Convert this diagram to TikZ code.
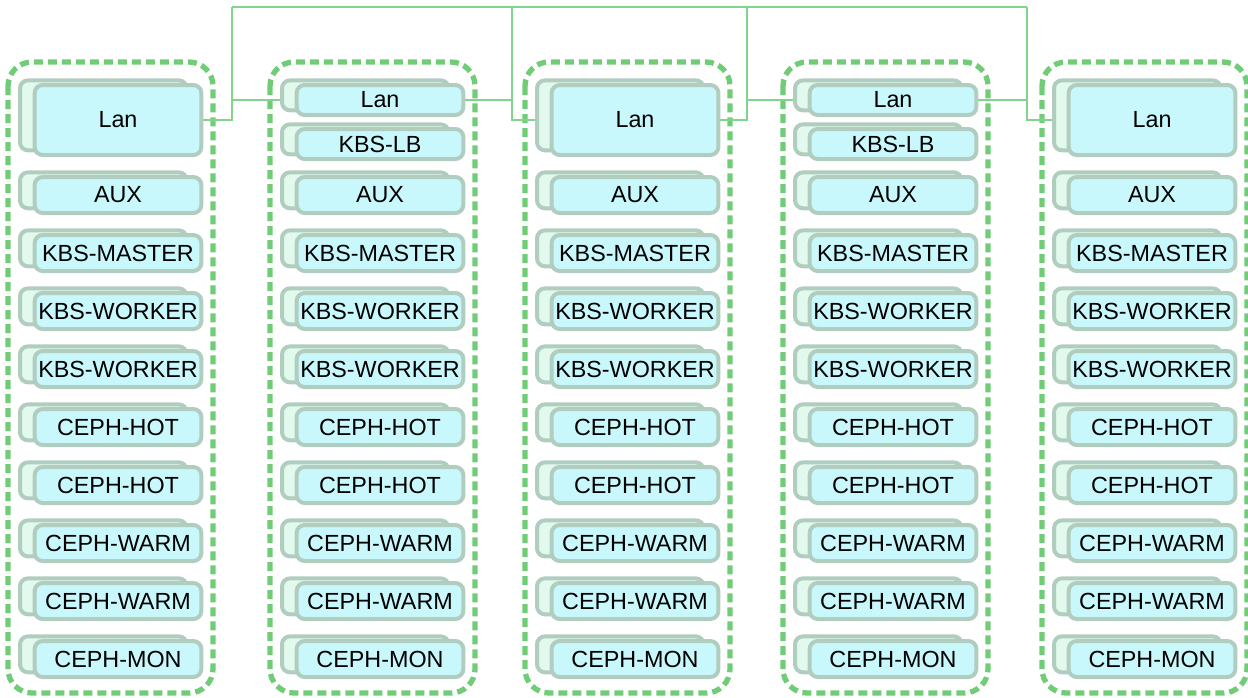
\documentclass[tikz,border=0pt]{standalone}
\usepackage{fontspec}
\setmainfont{Liberation Sans}
\usetikzlibrary{shadows}
\definecolor{busgreen}{RGB}{128,212,140}
\definecolor{podgreen}{RGB}{112,204,118}
\definecolor{vmline}{RGB}{176,205,192}
\definecolor{vmfill}{RGB}{200,248,252}
\definecolor{vmback}{RGB}{226,250,238}
\tikzset{
  vm/.style={draw=vmline, fill=vmfill, line width=3pt, rounded corners=6pt,
    minimum width=125pt, minimum height=27pt, inner sep=0pt,
    font=\fontsize{17.5}{19}\selectfont,
    copy shadow={shadow xshift=-11pt, shadow yshift=3.5pt, draw=vmline, fill=vmback, line width=3pt}},
  lanbig/.style={minimum height=52.5pt},
  lansmall/.style={minimum height=22.5pt},
  pod/.style={draw=podgreen, line width=4pt, dash pattern=on 6.75pt off 3.75pt, rounded corners=18pt},
  bus/.style={draw=busgreen, line width=2.2pt}
}
\begin{document}
\begin{tikzpicture}[x=0.75pt, y=-0.75pt]
  \useasboundingbox (0,0) rectangle (1248,697);
  \foreach \c/\x in {1/118, 2/380, 3/635, 4/893, 5/1152} {
    \draw[pod] (\x-110,62) rectangle (\x+95,693);
    \foreach \t [count=\i from 0] in {AUX, KBS-MASTER, KBS-WORKER, KBS-WORKER, CEPH-HOT, CEPH-HOT, CEPH-WARM, CEPH-WARM, CEPH-MON}
      \node[vm] (vm\c-\i) at (\x,195+58*\i) {\t};
  }
  \node[vm, lanbig] (lan1) at (118,120) {Lan};
  \node[vm, lansmall] (lan2) at (380,100) {Lan};
  \node[vm, lansmall] (lb2) at (380,144) {KBS-LB};
  \node[vm, lanbig] (lan3) at (635,120) {Lan};
  \node[vm, lansmall] (lan4) at (893,100) {Lan};
  \node[vm, lansmall] (lb4) at (893,144) {KBS-LB};
  \node[vm, lanbig] (lan5) at (1152,120) {Lan};
  \coordinate (j1) at (232,7); \coordinate (j2) at (512,7);
  \coordinate (j3) at (747,7); \coordinate (j4) at (1027,7);
  \draw[bus] (j1) -- (j4);
  \draw[bus] (lan1.east) -| (j1);
  \draw[bus] ([xshift=-11pt]lan2.west) -| (j1);
  \draw[bus] (lan2.east) -| (j2);
  \draw[bus] ([xshift=-11pt]lan3.west) -| (j2);
  \draw[bus] (lan3.east) -| (j3);
  \draw[bus] ([xshift=-11pt]lan4.west) -| (j3);
  \draw[bus] (lan4.east) -| (j4);
  \draw[bus] ([xshift=-11pt]lan5.west) -| (j4);
\end{tikzpicture}
\end{document}
